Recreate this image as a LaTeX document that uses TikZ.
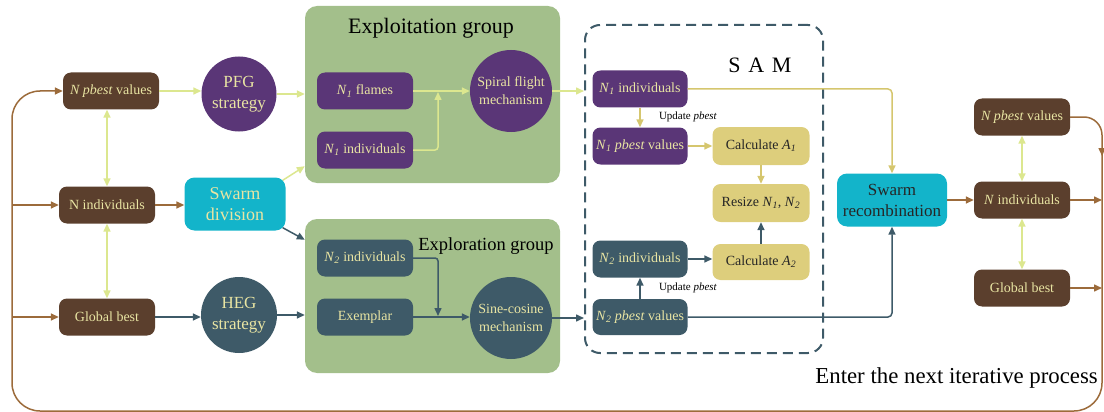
\documentclass[tikz,border=0pt]{standalone}
\usepackage{fontspec}
\setmainfont{Liberation Serif}
\usetikzlibrary{arrows.meta,calc}
\definecolor{brbox}{HTML}{5B3F2D}
\definecolor{brln}{HTML}{9C6B3B}
\definecolor{pur}{HTML}{5A3677}
\definecolor{slt}{HTML}{3E5A68}
\definecolor{lime}{HTML}{DCE78F}
\definecolor{ylbox}{HTML}{DDCE7C}
\definecolor{ylln}{HTML}{D5C66E}
\definecolor{grp}{HTML}{A3BF8B}
\definecolor{cyn}{HTML}{13B4CA}
\definecolor{ptxt}{HTML}{E9E5A3}
\newcommand{\Nsb}[1]{\textit{N}\textsubscript{\textit{#1}}}
\tikzset{
 bx/.style={rounded corners=8pt, minimum width=96pt, minimum height=37pt, inner sep=1pt, align=center, font=\fontsize{14}{16}\selectfont},
 brownbox/.style={bx, fill=brbox, text=ptxt},
 purbox/.style={bx, fill=pur, text=ptxt},
 sltbox/.style={bx, fill=slt, text=ptxt},
 ylwbox/.style={bx, fill=ylbox, text=black!85, minimum width=97pt, minimum height=38pt},
 circ/.style={circle, inner sep=0pt, align=center, text=ptxt},
 cyanbox/.style={rounded corners=10pt, fill=cyn, align=center, inner sep=1pt},
 grpbox/.style={fill=grp, rounded corners=12pt, inner sep=0pt, minimum width=255pt},
 arr/.style={line width=1.5pt, -{Triangle[length=8pt,width=7pt]}},
 darr/.style={line width=1.5pt, {Triangle[length=8pt,width=7pt]}-{Triangle[length=8pt,width=7pt]}},
 smalltxt/.style={font=\fontsize{11}{12}\selectfont, inner sep=0pt},
}
\begin{document}
\begin{tikzpicture}[x=1pt,y=-1pt]
\useasboundingbox (0,0) rectangle (1104,412);
% groups
\node[grpbox, minimum height=177pt] (expl) at (432.5,94.5) {};
\node[grpbox, minimum height=154pt] (exr) at (432.5,296) {};
\node[font=\fontsize{22}{24}\selectfont] (explT) at (431,28) {Exploitation group};
\node[font=\fontsize{18.5}{20}\selectfont] (exrT) at (486,246) {Exploration group};
\node[draw=slt, dash pattern=on 10pt off 6pt, line width=2pt, rounded corners=15pt, minimum width=238pt, minimum height=328pt, inner sep=0pt] (sam) at (704,189) {};
\node[font=\fontsize{22}{24}\selectfont] (samT) at (760,65) {S\hspace{0.35em}A\hspace{0.35em}M};
% left column
\node[brownbox] (lpb) at (111,91) {\textit{N pbest} values};
\node[brownbox] (lni) at (107,205) {N individuals};
\node[brownbox] (lgb) at (107,317) {Global best};
\node[circ, fill=pur, minimum size=75pt, font=\fontsize{17}{21}\selectfont] (pfg) at (239,94) {PFG\\strategy};
\node[circ, fill=slt, minimum size=76pt, font=\fontsize{17}{21}\selectfont] (heg) at (239,315) {HEG\\strategy};
\node[cyanbox, minimum width=101pt, minimum height=53pt, text=ptxt, font=\fontsize{18}{21}\selectfont] (sdiv) at (235,204) {Swarm\\division};
% exploitation / exploration
\node[purbox] (f1) at (365,91) {\Nsb{1} flames};
\node[purbox] (i1) at (365,150) {\Nsb{1} individuals};
\node[circ, fill=pur, minimum size=82pt, font=\fontsize{14}{18}\selectfont] (spiral) at (511,91) {Spiral flight\\mechanism};
\node[sltbox] (i2) at (365,258) {\Nsb{2} individuals};
\node[sltbox] (exm) at (365,317) {Exemplar};
\node[circ, fill=slt, minimum size=82pt, font=\fontsize{14}{18}\selectfont] (sine) at (511,318) {Sine-cosine\\mechanism};
% SAM
\node[purbox, minimum width=95pt] (si1) at (640,89) {\Nsb{1} individuals};
\node[purbox, minimum width=95pt] (sp1) at (640,146) {\Nsb{1} \textit{pbest} values};
\node[ylwbox] (ca1) at (761,146) {Calculate \textit{A}\textsubscript{\textit{1}}};
\node[ylwbox] (rs) at (761,203) {Resize \Nsb{1}, \Nsb{2}};
\node[sltbox, minimum width=95pt] (si2) at (640,259) {\Nsb{2} individuals};
\node[ylwbox, minimum height=36pt] (ca2) at (761,262) {Calculate \textit{A}\textsubscript{\textit{2}}};
\node[sltbox, minimum width=95pt, minimum height=36pt] (sp2) at (640,317) {\Nsb{2} \textit{pbest} values};
\node[smalltxt] (up1) at (688,117) {Update \textit{pbest}};
\node[smalltxt] (up2) at (688,288) {Update \textit{pbest}};
% right
\node[cyanbox, minimum width=110pt, minimum height=53pt, text=black!85, font=\fontsize{17}{21}\selectfont] (srec) at (892,200) {Swarm\\recombination};
\node[brownbox] (rpb) at (1022,117) {\textit{N pbest} values};
\node[brownbox] (rni) at (1022,200) {\textit{N} individuals};
\node[brownbox] (rgb) at (1022,288) {Global best};
\node[anchor=east, font=\fontsize{22.8}{24}\selectfont, inner sep=0pt] (nxt) at (1098,378) {Enter the next iterative process};
% coordinates
\coordinate (j1) at (438,92);
\coordinate (j2) at (438,316);
\coordinate (Rtop) at (1102,150);
\coordinate (Rbot) at (1102,411);
\coordinate (Lbot) at (12,411);
\coordinate (Ltop) at (12,91);
\coordinate (La) at (12,205);
\coordinate (Lb) at (12,317);
\coordinate (Ra) at (1102,200);
\coordinate (Rb) at (1102,288);
\coordinate (Rc) at (1102,117);
\coordinate (Rd) at (1102,156);
% left connectors
\draw[arr, brln, rounded corners=28pt] (Rtop) -- (Rbot) -- (Lbot) -- (Ltop) -- (lpb.west);
\draw[arr, brln] (La) -- (lni.west);
\draw[arr, brln] (Lb) -- (lgb.west);
\draw[darr, lime] (lpb.south -| lni.north) -- (lni.north);
\draw[darr, lime] (lni.south) -- (lgb.north);
\draw[arr, lime] (lpb.east) -- (lpb.east -| pfg.west);
\draw[arr, lime] (pfg.east) -- (pfg.east -| expl.west);
\draw[arr, brln] (lni.east) -- (lni.east -| sdiv.west);
\draw[arr, lime] ([xshift=-3pt,yshift=-3pt]sdiv.north east) -- ([yshift=17pt]expl.south west);
\draw[arr, slt] ([xshift=-3pt,yshift=3pt]sdiv.south east) -- ([yshift=-21pt]exr.north west);
\draw[arr, slt] (lgb.east) -- (lgb.east -| heg.west);
\draw[arr, slt] (heg.east) -- (heg.east -| exr.west);
% groups internal
\draw[arr, lime] (f1.east) -- (f1.east -| spiral.west);
\draw[arr, lime, rounded corners=3pt] (i1.east) -| (j1);
\draw[arr, slt, rounded corners=3pt] (i2.east) -| (j2);
\draw[arr, slt] (exm.east) -- (exm.east -| sine.west);
\draw[arr, lime] (spiral.east) -- (spiral.east -| sam.west);
\draw[arr, slt] (sine.east) -- (sine.east -| sam.west);
% SAM internal
\draw[arr, ylln] (si1.south) -- (sp1.north);
\draw[arr, ylln] (sp1.east) -- (ca1.west);
\draw[arr, ylln] (ca1.south) -- (rs.north);
\draw[arr, slt] (ca2.north) -- (rs.south);
\draw[arr, slt] (si2.east) -- (si2.east -| ca2.west);
\draw[arr, slt] (sp2.north) -- (si2.south);
\draw[arr, ylln, rounded corners=4pt] (si1.east) -| (srec.north);
\draw[arr, slt, rounded corners=4pt] (sp2.east) -| (srec.south);
% right
\draw[arr, brln] (srec.east) -- (rni.west);
\draw[darr, lime] (rpb.south) -- (rni.north);
\draw[darr, lime] (rni.south) -- (rgb.north);
\draw[arr, brln] (rni.east) -- (Ra);
\draw[arr, brln] (rgb.east) -- (Rb);
\draw[arr, brln, rounded corners=18pt] (rpb.east) -- (Rc) -- (Rd);
\end{tikzpicture}
\end{document}
